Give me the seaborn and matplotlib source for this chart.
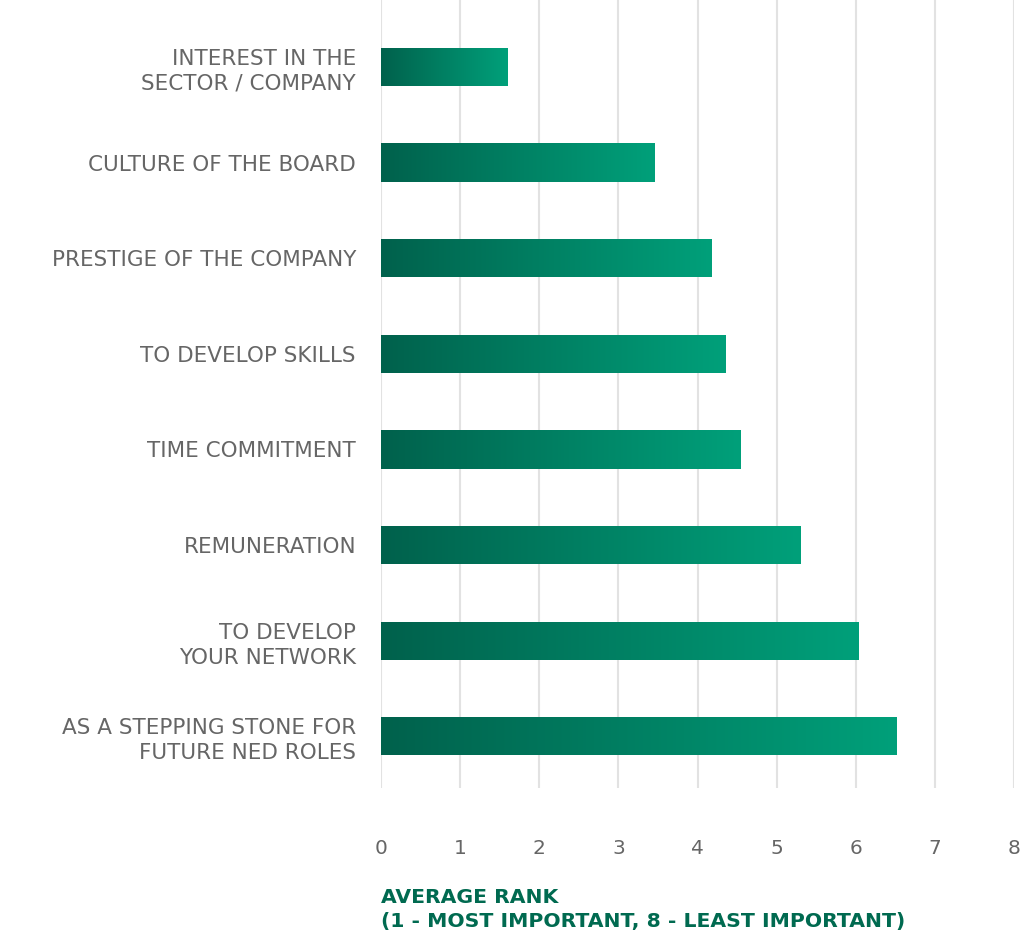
import matplotlib
matplotlib.use("Agg")
import matplotlib.pyplot as plt
import seaborn as sns
import numpy as np
import pandas as pd
from matplotlib.colors import LinearSegmentedColormap

categories = [
    "INTEREST IN THE\nSECTOR / COMPANY",
    "CULTURE OF THE BOARD",
    "PRESTIGE OF THE COMPANY",
    "TO DEVELOP SKILLS",
    "TIME COMMITMENT",
    "REMUNERATION",
    "TO DEVELOP\nYOUR NETWORK",
    "AS A STEPPING STONE FOR\nFUTURE NED ROLES",
]
values = [1.60, 3.46, 4.18, 4.36, 4.54, 5.30, 6.04, 6.51]
xticks = [0, 1, 2, 3, 4, 5, 6, 7, 8]
xlabel = "AVERAGE RANK\n(1 - MOST IMPORTANT, 8 - LEAST IMPORTANT)"

df = pd.DataFrame({"factor": categories, "rank": values})

sns.set_theme(style="white")
plt.rcParams["font.family"] = ["DejaVu Sans"]

fig = plt.figure(figsize=(10.27, 9.38), dpi=100)
ax = fig.add_axes([381 / 1027, 150 / 938, 633 / 1027, 788 / 938])

sns.barplot(data=df, y="factor", x="rank", orient="h", color="#008060",
            width=0.4, ax=ax, zorder=3)

cmap = LinearSegmentedColormap.from_list("g", ["#00614c", "#00a07a"])
grad = np.linspace(0, 1, 256).reshape(1, -1)
for p in ax.patches:
    x0, y0 = p.get_x(), p.get_y()
    w, h = p.get_width(), p.get_height()
    im = ax.imshow(grad, cmap=cmap, aspect="auto",
                   extent=[x0, x0 + w, y0 + h, y0], zorder=4)
    im.set_clip_path(p)
    p.set_facecolor("none")
    p.set_edgecolor("none")

ax.set_xlim(0, 8)
ax.set_ylim(7.54, -0.70)
ax.set_xticks(xticks)
ax.set_xticklabels([str(t) for t in xticks])
for s in ax.spines.values():
    s.set_visible(False)
ax.grid(axis="x", color="#e2e2e2", linewidth=1.5, zorder=0)
ax.grid(axis="y", visible=False)
ax.set_axisbelow(True)
ax.tick_params(axis="x", length=0, pad=37, labelsize=14.5, labelcolor="#666666")
ax.tick_params(axis="y", length=0, pad=18, labelsize=15.5, labelcolor="#666666")
for lab in ax.get_yticklabels():
    lab.set_multialignment("right")
    lab.set_linespacing(1.3)
ax.set_xlabel("")
ax.set_ylabel("")

fig.text(381 / 1027, 1 - 888 / 938, xlabel, ha="left", va="top",
         fontsize=14.7, fontweight="bold", color="#006a50", linespacing=1.35)

fig.savefig("out.png", dpi=100)
